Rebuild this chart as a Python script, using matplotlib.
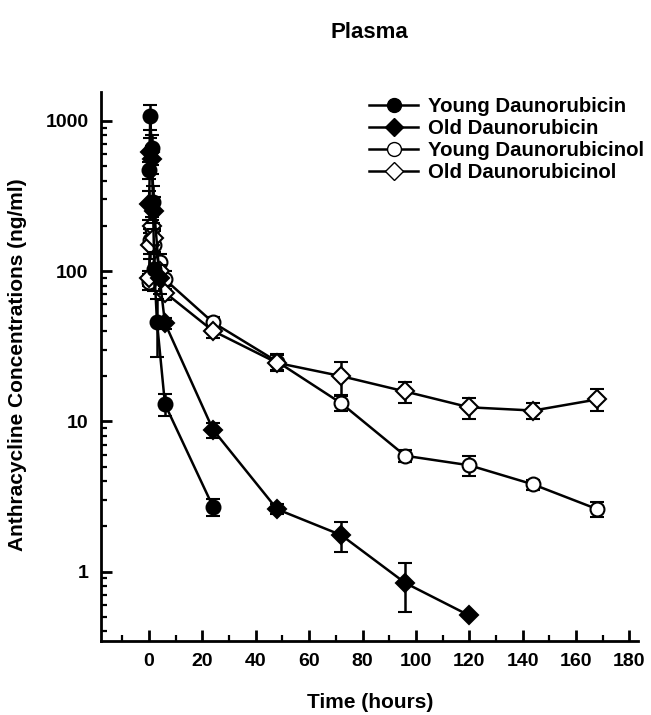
import numpy as np
import matplotlib.pyplot as plt
from matplotlib.lines import Line2D
from matplotlib.ticker import FixedLocator, LogLocator, NullFormatter, FixedFormatter, MultipleLocator

plt.rcParams['font.family'] = ['Liberation Sans', 'DejaVu Sans']
plt.rcParams['font.weight'] = 'bold'

# time points (hours) and concentrations (ng/ml)
t_young_dauno = [0, 0.5, 1, 1.5, 2, 3, 6, 24]
young_dauno = [470, 1070, 660, 290, 104, 46, 13, 2.7]
young_dauno_err = [60, 200, 150, 80, 30, 19, 2.2, 0.35]

t_old_dauno = [0, 0.5, 1, 2, 4, 6, 24, 48, 72, 96, 120]
old_dauno = [280, 620, 560, 250, 90, 45, 8.8, 2.6, 1.75, 0.84, 0.51]
old_dauno_err = [60, 150, 120, 60, 20, 4, 1.0, 0.2, 0.4, 0.3, 0]

t_young_ol = [0, 0.5, 1, 2, 4, 6, 24, 48, 72, 96, 120, 144, 168]
young_ol = [85, 160, 190, 150, 115, 88, 45.5, 25, 13.2, 5.9, 5.1, 3.8, 2.6]
young_ol_err = [10, 30, 30, 20, 15, 12, 4, 3, 1.5, 0.5, 0.8, 0.3, 0.3]

t_old_ol = [0, 0.5, 1, 2, 4, 6, 24, 48, 72, 96, 120, 144, 168]
old_ol = [90, 150, 200, 165, 100, 72, 40, 24.5, 20, 15.8, 12.4, 11.8, 14]
old_ol_err = [10, 30, 30, 20, 15, 8, 4, 3, 5, 2.5, 2, 1.5, 2.3]

labels = ['Young Daunorubicin', 'Old Daunorubicin', 'Young Daunorubicinol', 'Old Daunorubicinol']

fig = plt.figure(figsize=(6.51, 7.15), dpi=100)
ax = fig.add_axes([0.155, 0.1035, 0.825, 0.768])

common = dict(color='black', lw=1.8, capsize=5, capthick=2,
              elinewidth=1.8, markeredgewidth=1.5, markeredgecolor='black')
ax.errorbar(t_young_ol, young_ol, yerr=young_ol_err, fmt='-o', mfc='white',
            markersize=10, zorder=3, **common)
ax.errorbar(t_old_ol, old_ol, yerr=old_ol_err, fmt='-D', mfc='white',
            markersize=9, zorder=3, **common)
ax.errorbar(t_young_dauno, young_dauno, yerr=young_dauno_err, fmt='-o', mfc='black',
            markersize=10, zorder=4, **common)
ax.errorbar(t_old_dauno, old_dauno, yerr=old_dauno_err, fmt='-D', mfc='black',
            markersize=9, zorder=4, **common)

ax.set_yscale('log')
ax.set_ylim(0.345, 1560)
ax.set_xlim(-18, 183.2)

ax.spines['top'].set_visible(False)
ax.spines['right'].set_visible(False)
ax.spines['left'].set_linewidth(2)
ax.spines['bottom'].set_linewidth(2)

ax.yaxis.set_major_locator(FixedLocator([1, 10, 100, 1000]))
ax.yaxis.set_major_formatter(FixedFormatter(['1', '10', '100', '1000']))
ax.yaxis.set_minor_locator(LogLocator(base=10, subs=np.arange(2, 10)))
ax.yaxis.set_minor_formatter(NullFormatter())
ax.xaxis.set_major_locator(FixedLocator([0, 20, 40, 60, 80, 100, 120, 140, 160, 180]))
ax.xaxis.set_minor_locator(MultipleLocator(10))

ax.tick_params(axis='both', which='major', direction='in', length=8, width=2,
               labelsize=14, pad=9)
ax.tick_params(axis='both', which='minor', direction='in', length=4, width=1.6)
for lab in ax.get_xticklabels() + ax.get_yticklabels():
    lab.set_fontweight('bold')

fig.text(0.568, 1 - 703 / 715, 'Time (hours)', ha='center', va='center',
         fontsize=15, fontweight='bold')
fig.text(18 / 651, 1 - 365 / 715, 'Anthracycline Concentrations (ng/ml)', ha='center',
         va='center', rotation=90, fontsize=15, fontweight='bold')
fig.text(0.568, 1 - 32 / 715, 'Plasma', ha='center', va='center', fontsize=16, fontweight='bold')

handles = [
    Line2D([], [], color='black', lw=1.8, marker='o', ms=10, mfc='black', mec='black'),
    Line2D([], [], color='black', lw=1.8, marker='D', ms=9, mfc='black', mec='black'),
    Line2D([], [], color='black', lw=1.8, marker='o', ms=10, mfc='white', mec='black'),
    Line2D([], [], color='black', lw=1.8, marker='D', ms=9, mfc='white', mec='black'),
]
leg = ax.legend(handles, labels, loc='upper left',
                bbox_to_anchor=(355 / 651, 1 - 83 / 715), bbox_transform=fig.transFigure,
                frameon=False, fontsize=14.7, handlelength=2.4, labelspacing=0.15,
                handletextpad=0.5, borderpad=0.2)
for txt in leg.get_texts():
    txt.set_fontweight('bold')

plt.savefig('out.png', dpi=100)
